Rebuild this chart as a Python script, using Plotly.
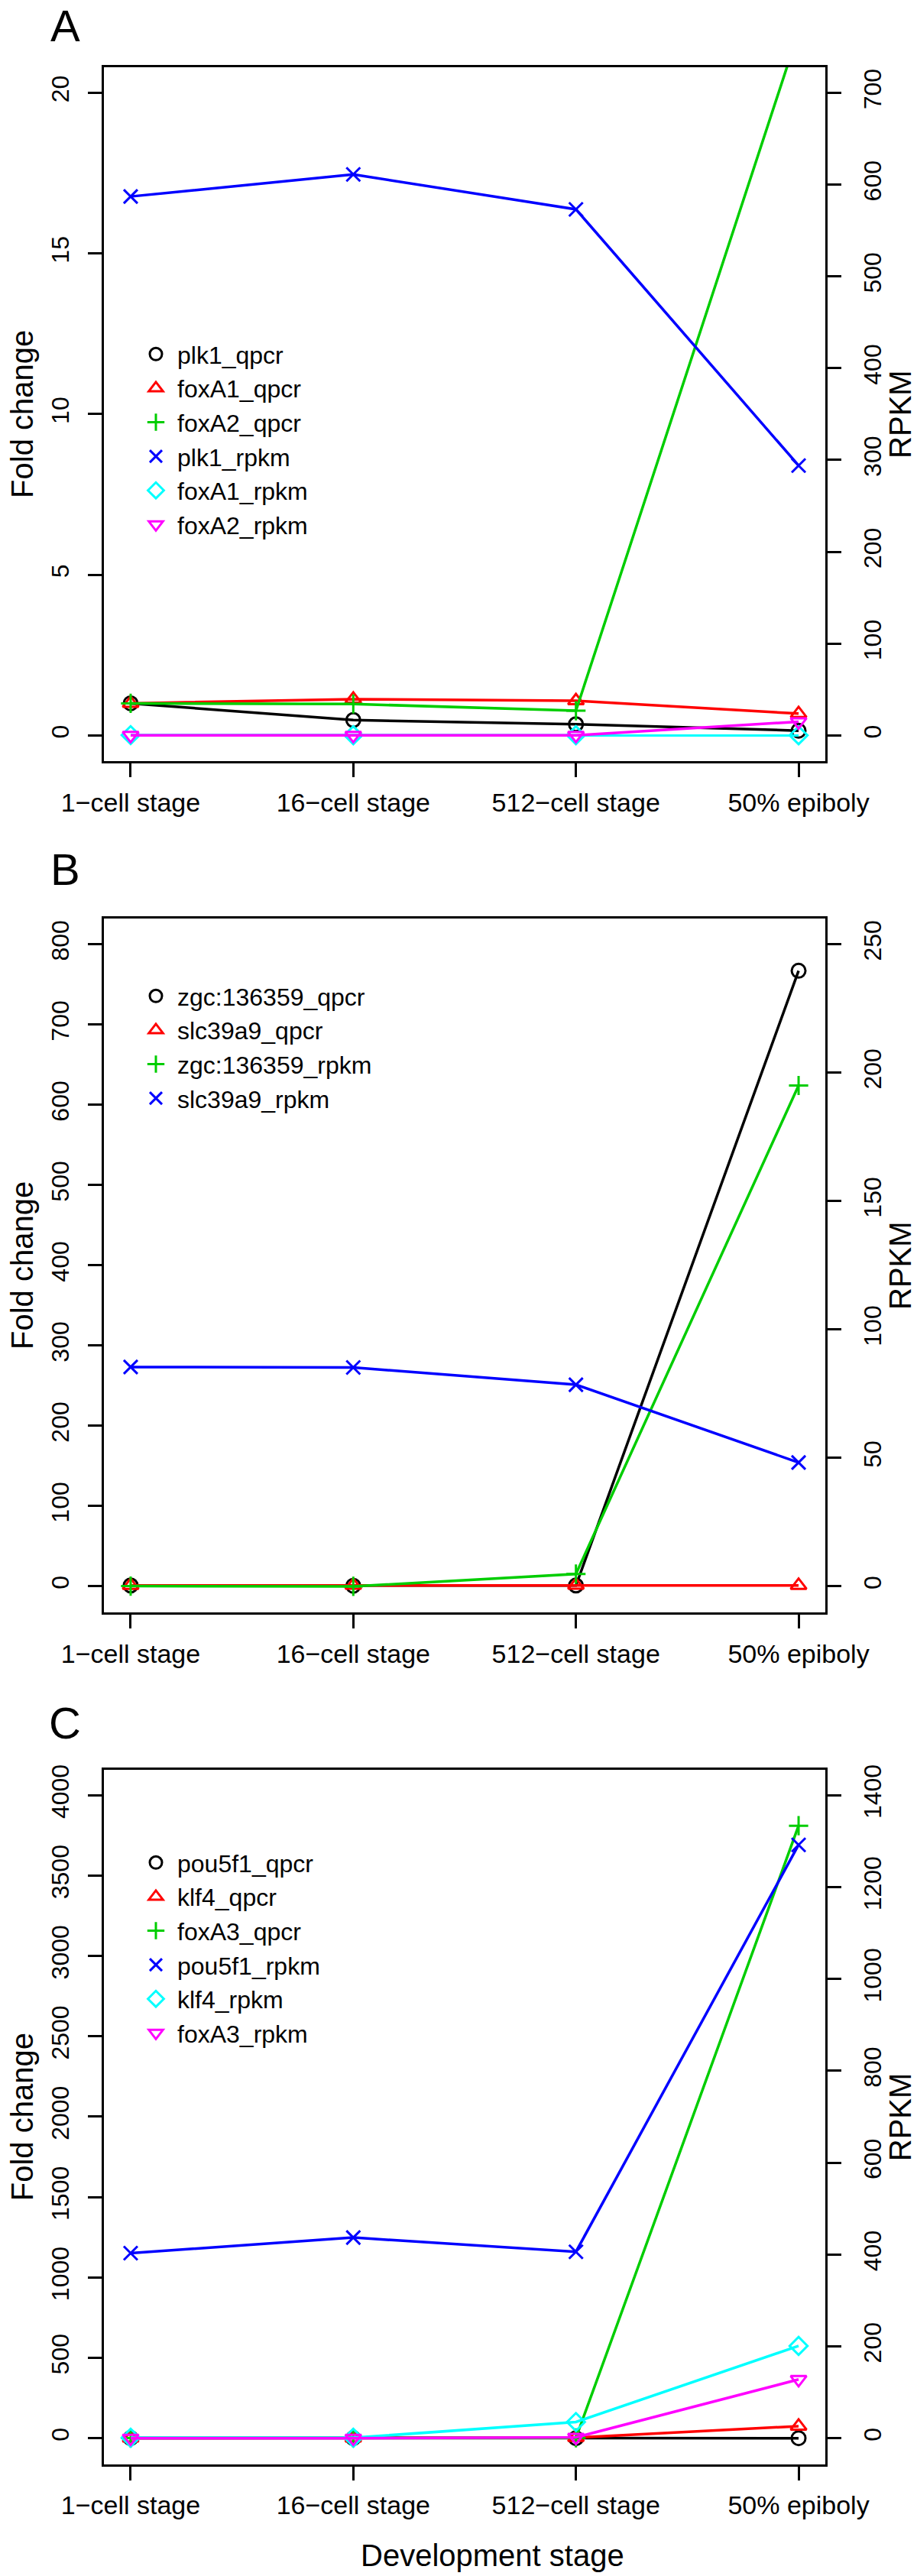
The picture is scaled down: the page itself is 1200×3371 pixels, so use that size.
import plotly.graph_objects as go

W, H = 1200, 3371

stages = ["1−cell stage", "16−cell stage", "512−cell stage", "50% epiboly"]

# ---- Panel A ----
A_names = ["plk1_qpcr", "foxA1_qpcr", "foxA2_qpcr", "plk1_rpkm", "foxA1_rpkm", "foxA2_rpkm"]
plk1_qpcr = [1.0, 0.48, 0.35, 0.15]
foxA1_qpcr = [1.0, 1.13, 1.08, 0.68]
foxA2_qpcr = [1.0, 0.98, 0.77, 21.9]
plk1_rpkm = [587, 611, 573, 294]
foxA1_rpkm = [0.4, 0.3, 0.3, 0.2]
foxA2_rpkm = [0.1, 0.1, 0.2, 15]

# ---- Panel B ----
B_names = ["zgc:136359_qpcr", "slc39a9_qpcr", "zgc:136359_rpkm", "slc39a9_rpkm"]
zgc_qpcr = [1.0, 0.6, 0.9, 767]
slc39a9_qpcr = [1.0, 1.1, 1.2, 1.0]
zgc_rpkm = [0.1, 0.0, 4.8, 195]
slc39a9_rpkm = [85.4, 85.2, 78.5, 48.2]

# ---- Panel C ----
C_names = ["pou5f1_qpcr", "klf4_qpcr", "foxA3_qpcr", "pou5f1_rpkm", "klf4_rpkm", "foxA3_rpkm"]
pou5f1_qpcr = [1.0, 0.5, 0.3, 0.1]
klf4_qpcr = [1.0, 1.5, 4.0, 75]
foxA3_qpcr = [1.0, 1.0, 2.0, 3810]
pou5f1_rpkm = [403, 437, 406, 1292]
klf4_rpkm = [1.0, 1.0, 35.4, 201]
foxA3_rpkm = [0.1, 0.1, 2.0, 128]

# ticks
A_left_ticks = [0, 5, 10, 15, 20]
A_right_ticks = [0, 100, 200, 300, 400, 500, 600, 700]
B_left_ticks = [0, 100, 200, 300, 400, 500, 600, 700, 800]
B_right_ticks = [0, 50, 100, 150, 200, 250]
C_left_ticks = [0, 500, 1000, 1500, 2000, 2500, 3000, 3500, 4000]
C_right_ticks = [0, 200, 400, 600, 800, 1000, 1200, 1400]

colors = ["#000000", "#FF0000", "#00CD00", "#0000FF", "#00FFFF", "#FF00FF"]
symbols = ["circle-open", "triangle-up-open", "cross-thin-open", "x-thin-open",
           "diamond-open", "triangle-down-open"]

panels = [
    dict(letter="A", names=A_names,
         series=[plk1_qpcr, foxA1_qpcr, foxA2_qpcr, plk1_rpkm, foxA1_rpkm, foxA2_rpkm],
         sides=["L", "L", "L", "R", "R", "R"],
         lt=A_left_ticks, rt=A_right_ticks,
         lrange=[-0.8, 20.8], rrange=[-28, 728],
         top=87.7, bot=996.1, letter_y=0, legend_top=436),
    dict(letter="B", names=B_names,
         series=[zgc_qpcr, slc39a9_qpcr, zgc_rpkm, slc39a9_rpkm],
         sides=["L", "L", "R", "R"],
         lt=B_left_ticks, rt=B_right_ticks,
         lrange=[-32.8, 832.4], rrange=[-10.2, 260.1],
         top=1201.7, bot=2110.2, letter_y=1104, legend_top=1276),
    dict(letter="C", names=C_names,
         series=[pou5f1_qpcr, klf4_qpcr, foxA3_qpcr, pou5f1_rpkm, klf4_rpkm, foxA3_rpkm],
         sides=["L", "L", "L", "R", "R", "R"],
         lt=C_left_ticks, rt=C_right_ticks,
         lrange=[-160.7, 4158], rrange=[-56.2, 1455.4],
         top=2316, bot=3224.5, letter_y=2221, legend_top=2410),
]

FONT = "Liberation Sans, Arial, Helvetica, sans-serif"
box_l, box_r = 136, 1080

fig = go.Figure()
layout = dict(
    width=W, height=H,
    margin=dict(l=0, r=0, t=0, b=0, autoexpand=False),
    paper_bgcolor="white", plot_bgcolor="white",
    font=dict(family=FONT, color="black", size=33),
    showlegend=True,
)
annotations = []

for i, p in enumerate(panels):
    n = i + 1
    xa = "xaxis" if n == 1 else f"xaxis{n}"
    xref = "x" if n == 1 else f"x{n}"
    yl_n = 2 * i + 1
    yr_n = 2 * i + 2
    yl = "yaxis" if yl_n == 1 else f"yaxis{yl_n}"
    yl_ref = "y" if yl_n == 1 else f"y{yl_n}"
    yr = f"yaxis{yr_n}"
    yr_ref = f"y{yr_n}"
    leg = "legend" if n == 1 else f"legend{n}"

    ydom = [1 - p["bot"] / H, 1 - p["top"] / H]
    layout[xa] = dict(
        domain=[box_l / W, box_r / W], anchor=yl_ref, automargin=False,
        type="category", categoryorder="array", categoryarray=stages,
        range=[-0.12, 3.12],
        showline=True, linewidth=3, linecolor="black", mirror=True,
        ticks="outside", ticklen=18, tickwidth=3, tickcolor="black",
        tickfont=dict(size=34), ticklabelstandoff=4,
        showgrid=False, zeroline=False,
    )
    layout[yl] = dict(
        domain=ydom, anchor=xref, range=p["lrange"], automargin=False,
        tickvals=p["lt"], ticktext=[str(v) for v in p["lt"]], tickangle=-90,
        showline=True, linewidth=3, linecolor="black", mirror=True,
        ticks="outside", ticklen=18, tickwidth=3, tickcolor="black",
        tickfont=dict(size=32), ticklabelstandoff=12,
        showgrid=False, zeroline=False,
    )
    layout[yr] = dict(
        overlaying=yl_ref, side="right", anchor=xref, range=p["rrange"], automargin=False,
        tickvals=p["rt"], ticktext=[str(v) for v in p["rt"]], tickangle=-90,
        showline=True, linewidth=3, linecolor="black",
        ticks="outside", ticklen=18, tickwidth=3, tickcolor="black",
        tickfont=dict(size=32), ticklabelstandoff=14,
        showgrid=False, zeroline=False,
    )
    layout[leg] = dict(
        x=176 / W, y=1 - p["legend_top"] / H, xanchor="left", yanchor="top",
        bgcolor="rgba(0,0,0,0)", borderwidth=0,
        font=dict(size=32, family=FONT, color="black"),
        itemsizing="trace", itemwidth=46,
    )

    for k, (name, vals, side) in enumerate(zip(p["names"], p["series"], p["sides"])):
        yref = yl_ref if side == "L" else yr_ref
        fig.add_trace(go.Scatter(
            x=stages, y=vals, mode="lines", xaxis=xref, yaxis=yref,
            line=dict(color=colors[k], width=3.5), showlegend=False,
            hoverinfo="skip",
        ))
        fig.add_trace(go.Scatter(
            x=stages, y=vals, mode="markers", xaxis=xref, yaxis=yref,
            name=name, legend=leg,
            marker=dict(symbol=symbols[k], size=18, color=colors[k],
                        line=dict(color=colors[k], width=3)),
        ))

    cy = 1 - ((p["top"] + p["bot"]) / 2) / H
    annotations.append(dict(text="Fold change", x=29 / W, y=cy, xref="paper", yref="paper",
                            textangle=-90, showarrow=False, font=dict(size=40),
                            xanchor="center", yanchor="middle"))
    annotations.append(dict(text="RPKM", x=1178 / W, y=cy, xref="paper", yref="paper",
                            textangle=-90, showarrow=False, font=dict(size=40),
                            xanchor="center", yanchor="middle"))
    annotations.append(dict(text=p["letter"], x=85 / W, y=1 - p["letter_y"] / H,
                            xref="paper", yref="paper", showarrow=False,
                            font=dict(size=58), xanchor="center", yanchor="top",
                            borderpad=0))

annotations.append(dict(text="Development stage", x=644 / W, y=1 - 3344 / H,
                        xref="paper", yref="paper", showarrow=False,
                        font=dict(size=40), xanchor="center", yanchor="middle"))
layout["annotations"] = annotations
fig.update_layout(**layout)
fig.write_html("out.html", config={"displayModeBar": False})

# remove the browser's default body margin so the figure sits at the page origin
with open("out.html", "r", encoding="utf-8") as f:
    html = f.read()
html = html.replace("<head>", "<head><style>html,body{margin:0;padding:0;overflow:hidden;}</style>", 1)
with open("out.html", "w", encoding="utf-8") as f:
    f.write(html)
